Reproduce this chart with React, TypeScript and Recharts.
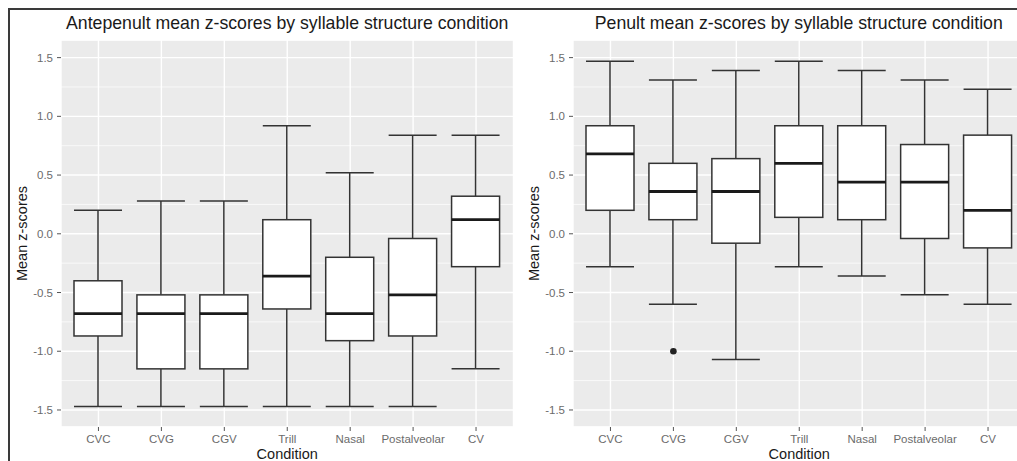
import React from 'react';
import { ComposedChart, Bar, XAxis, YAxis, CartesianGrid, ReferenceDot } from 'recharts';

const conditions = ['CVC', 'CVG', 'CGV', 'Trill', 'Nasal', 'Postalveolar', 'CV'];

// Antepenult
const anteMin = [-1.47, -1.47, -1.47, -1.47, -1.47, -1.47, -1.15];
const anteQ1 = [-0.87, -1.15, -1.15, -0.64, -0.91, -0.87, -0.28];
const anteMedian = [-0.68, -0.68, -0.68, -0.36, -0.68, -0.52, 0.12];
const anteQ3 = [-0.4, -0.52, -0.52, 0.12, -0.2, -0.04, 0.32];
const anteMax = [0.2, 0.28, 0.28, 0.92, 0.52, 0.84, 0.84];
const anteOutliers: { condition: string; value: number }[] = [];

// Penult
const penMin = [-0.28, -0.6, -1.07, -0.28, -0.36, -0.52, -0.6];
const penQ1 = [0.2, 0.12, -0.08, 0.14, 0.12, -0.04, -0.12];
const penMedian = [0.68, 0.36, 0.36, 0.6, 0.44, 0.44, 0.2];
const penQ3 = [0.92, 0.6, 0.64, 0.92, 0.92, 0.76, 0.84];
const penMax = [1.47, 1.31, 1.39, 1.47, 1.39, 1.31, 1.23];
const penOutliers = [{ condition: 'CVG', value: -1.0 }];

const yTicks = [-1.5, -1, -0.5, 0, 0.5, 1, 1.5];
const yMinorTicks = [-1.25, -0.75, -0.25, 0.25, 0.75, 1.25];
const yDomain: [number, number] = [-1.645, 1.65];

const FONT = '"Liberation Sans", Arial, Helvetica, sans-serif';

const buildRows = (mn: number[], q1: number[], md: number[], q3: number[], mx: number[]) =>
  conditions.map((c, i) => ({ condition: c, min: mn[i], q1: q1[i], median: md[i], q3: q3[i], max: mx[i] }));

const BoxShape = (props: any) => {
  const { x, y, width, height, payload } = props;
  if (x == null || y == null || !payload) return null;
  const top = Math.min(y, y + height);
  const h = Math.abs(height);
  const { min, q1, median, q3, max } = payload;
  const ppu = h / (max - min);
  const toY = (v: number) => top + (max - v) * ppu;
  const cx = x + width / 2;
  const stroke = '#333333';
  return (
    <g>
      <line x1={cx} x2={cx} y1={toY(max)} y2={toY(q3)} stroke={stroke} strokeWidth={1.5} />
      <line x1={cx} x2={cx} y1={toY(q1)} y2={toY(min)} stroke={stroke} strokeWidth={1.5} />
      <line x1={x} x2={x + width} y1={toY(max)} y2={toY(max)} stroke={stroke} strokeWidth={1.5} />
      <line x1={x} x2={x + width} y1={toY(min)} y2={toY(min)} stroke={stroke} strokeWidth={1.5} />
      <rect x={x} y={toY(q3)} width={width} height={toY(q1) - toY(q3)} fill="#ffffff" stroke={stroke} strokeWidth={1.5} />
      <line x1={x} x2={x + width} y1={toY(median)} y2={toY(median)} stroke="#1a1a1a" strokeWidth={2.8} />
    </g>
  );
};

interface PanelProps {
  title: string;
  rows: ReturnType<typeof buildRows>;
  outliers: { condition: string; value: number }[];
  left: number;
}

const Panel = ({ title, rows, outliers, left }: PanelProps) => {
  const yAxisWidth = 61;
  const plotWidth = 452.5;
  return (
    <div style={{ position: 'absolute', left, top: 0, width: yAxisWidth + plotWidth, height: 461 }}>
      <div
        style={{
          position: 'absolute',
          left: yAxisWidth,
          top: 15,
          width: plotWidth,
          textAlign: 'center',
          fontFamily: FONT,
          fontSize: 17.7,
          lineHeight: '17.7px',
          color: '#1a1a1a',
          whiteSpace: 'nowrap',
        }}
      >
        {title}
      </div>
      <ComposedChart
        width={yAxisWidth + plotWidth}
        height={461}
        data={rows}
        margin={{ top: 40, right: 0, bottom: 0, left: 0 }}
      >
        <CartesianGrid yAxisId="minor" vertical={false} stroke="#ffffff" strokeWidth={0.7} fill="#ebebeb" fillOpacity={1} />
        <CartesianGrid stroke="#ffffff" strokeWidth={1.4} />
        <XAxis
          dataKey="condition"
          padding={{ left: 6, right: 6 }}
          axisLine={false}
          tickLine={{ stroke: '#555555' }}
          tickSize={4}
          tickMargin={4}
          height={34}
          interval={0}
          tick={{ fontSize: 11.5, fill: '#6b6b6b', fontFamily: FONT }}
          label={{ value: 'Condition', position: 'insideBottom', offset: 2, fontSize: 14.5, fill: '#1a1a1a', fontFamily: FONT }}
        />
        <YAxis
          type="number"
          domain={yDomain}
          ticks={yTicks}
          allowDataOverflow
          width={yAxisWidth}
          axisLine={false}
          tickLine={{ stroke: '#555555' }}
          tickSize={4}
          tickMargin={4}
          tickFormatter={(v: number) => v.toFixed(1)}
          tick={{ fontSize: 11.5, fill: '#6b6b6b', fontFamily: FONT }}
          label={{
            value: 'Mean z-scores',
            angle: -90,
            position: 'insideLeft',
            offset: 22,
            fontSize: 14.5,
            fill: '#1a1a1a',
            fontFamily: FONT,
            style: { textAnchor: 'middle' },
          }}
        />
        <YAxis yAxisId="minor" type="number" domain={yDomain} ticks={yMinorTicks} allowDataOverflow hide />
        <Bar
          dataKey={(d: any) => [d.min, d.max]}
          barSize={48}
          shape={(p: any) => <BoxShape {...p} />}
          isAnimationActive={false}
        />
        {outliers.map((o) => (
          <ReferenceDot key={o.condition} x={o.condition} y={o.value} r={3.3} fill="#222222" stroke="none" />
        ))}
      </ComposedChart>
    </div>
  );
};

export default function App() {
  const anteRows = buildRows(anteMin, anteQ1, anteMedian, anteQ3, anteMax);
  const penRows = buildRows(penMin, penQ1, penMedian, penQ3, penMax);
  return (
    <div style={{ position: 'fixed', left: 0, top: 0, width: 1017, height: 461, overflow: 'hidden', background: '#ffffff' }}>
      <Panel title="Antepenult mean z-scores by syllable structure condition" rows={anteRows} outliers={anteOutliers} left={0} />
      <Panel title="Penult mean z-scores by syllable structure condition" rows={penRows} outliers={penOutliers} left={511.5} />
      <div
        style={{
          position: 'absolute',
          left: 8,
          top: 8,
          width: 1100,
          height: 600,
          borderLeft: '2px solid #3a3a3a',
          borderTop: '2px solid #3a3a3a',
          pointerEvents: 'none',
        }}
      />
    </div>
  );
}
